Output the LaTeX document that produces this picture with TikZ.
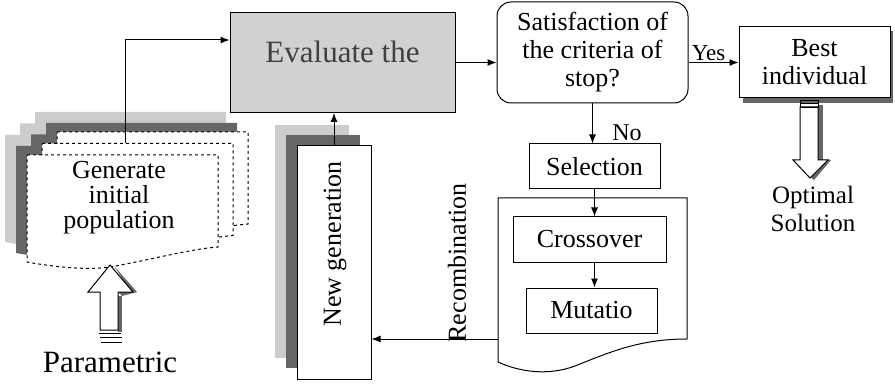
\documentclass[tikz,border=0pt]{standalone}
\usepackage{fontspec}
\setmainfont{Liberation Serif}
\newfontfamily\tnr{Liberation Serif}
\usetikzlibrary{arrows.meta}
\newcommand{\genpage}[3]{\path[#3] (#1,#2) -- (#1+191,#2) -- (#1+191,#2+92)
  .. controls (#1+163,#2+94) and (#1+123,#2+105) .. (#1+83,#2+112)
  .. controls (#1+63,#2+115) and (#1+33,#2+113) .. (#1,#2+107) -- cycle;}
\begin{document}
\begin{tikzpicture}[x=1pt,y=-1pt,
  arr/.style={-{Latex[length=9pt,width=7pt]},line width=1pt},
  box/.style={draw,line width=1pt,fill=white,inner sep=0pt},
  lbl/.style={font=\tnr\fontsize{26}{28}\selectfont,align=center,inner sep=0pt},
  lightsh/.style={fill=black!20},
  darksh/.style={fill=black!60},
  page/.style={draw,dashed,line width=1pt,fill=white},
  hollow/.style={draw,line width=1pt,fill=white}
]
\useasboundingbox (0,0) rectangle (895,385);

% ---- Generate initial population stack ----
\genpage{35}{112}{lightsh}
\genpage{20}{123.5}{lightsh}
\genpage{5}{135}{lightsh}
\genpage{46}{123}{darksh}
\genpage{31}{134.5}{darksh}
\genpage{16}{146}{darksh}
\genpage{57}{132}{page}
\genpage{42}{143.5}{page}
\genpage{27}{155}{page}
\node[font=\tnr\fontsize{26}{25}\selectfont,align=center,inner sep=0pt] (gen) at (119,198) {Generate\\initial\\population};

% ---- Evaluate ----
\node[box,fill=black!18,minimum width=225pt,minimum height=100pt,
      font=\tnr\fontsize{31}{33}\selectfont,text=black!75,text depth=22pt] (eval) at (342.5,62.5) {Evaluate the};
\coordinate (genTop) at (125,143.5);
\coordinate (evalIn) at ([yshift=22.5pt]eval.west);
\draw[arr] (genTop) |- (evalIn);

% ---- Decision ----
\node[box,rounded corners=14pt,minimum width=191pt,minimum height=101pt,lbl] (dec) at (592.5,52.5)
  {Satisfaction of\\the criteria of\\stop?};
\draw[arr] (eval.east) -- (eval.east -| dec.west);

% ---- Best individual ----
\fill[black!60] (743,31) rectangle (893,103);
\node[box,minimum width=151pt,minimum height=71pt,lbl] (best) at (814.5,62.5) {Best\\individual};
\draw[arr] (dec.east |- best.west) -- node[above,pos=0.4,inner sep=1pt,font=\tnr\fontsize{23}{25}\selectfont] (yes) {Yes} (best.west);

% hollow down arrow
\fill[black!60] (818,105) rectangle (823,160);
\fill[black!60] (821,160) -- (831,160) -- (814,180) -- (810,177) -- cycle;
\path[hollow] (800,107) -- (818,107) -- (818,160) -- (828,160) -- (810,178) -- (793,160) -- (800,160) -- cycle;
\draw[line width=0.7pt] (800,100) rectangle (818,107);
\draw[line width=0.7pt] (800,103.5) -- (818,103.5);
\node[font=\tnr\fontsize{25}{28}\selectfont,align=center,inner sep=0pt] (opt) at (813,209) {Optimal\\Solution};

% ---- Selection / recombination ----
\node[box,minimum width=131pt,minimum height=45pt,lbl] (sel) at (594.5,166.5) {Selection};
\draw[arr] (dec.south) -- (dec.south |- sel.north);
\node[font=\tnr\fontsize{24}{26}\selectfont,inner sep=0pt] (no) at (627,133) {No};

\draw[line width=1pt,fill=white] (498,198) -- (687,198) -- (687,339)
  .. controls (640,339) and (610,352) .. (575,366)
  .. controls (548,376) and (520,372) .. (498,362) -- cycle;
\coordinate (recL) at (498,339);

\node[box,minimum width=153pt,minimum height=45pt,lbl] (cross) at (589.5,239.5) {Crossover};
\node[box,minimum width=131pt,minimum height=45pt,lbl] (mut) at (591.5,310.5) {Mutatio};
\draw[arr] (sel.south) -- (sel.south |- cross.north);
\draw[arr] (cross.south -| sel.south) -- (sel.south |- mut.north);

% ---- New generation ----
\fill[black!20] (275,125) rectangle (349,358);
\fill[black!60] (286,135) rectangle (360,368);
\node[box,minimum width=74pt,minimum height=233pt] (ng) at (334,262.5) {};
\node[lbl,rotate=90] (ngtxt) at (335,244) {New generation};
\draw[arr] (ng.north) -- (ng.north |- eval.south);

\draw[arr] (recL) -- (recL -| ng.east);
\node[lbl,rotate=90] (rec) at (457,263) {Recombination};

% ---- Parametric hollow up arrow ----
\fill[black!60] (118,296) rectangle (122,332);
\fill[black!60] (114,266) -- (137,292) -- (122,296) -- (118,292) -- (131,292) -- cycle;
\path[hollow] (110,265) -- (133,292) -- (118,292) -- (118,330) -- (100,330) -- (100,292) -- (88,292) -- cycle;
\draw[line width=0.7pt] (99,333) -- (121,333);
\draw[line width=0.7pt] (100,337.5) -- (122,337.5);
\draw[line width=0.7pt] (101,342) -- (122,342);
\node[font=\tnr\fontsize{31}{33}\selectfont,inner sep=0pt] (param) at (110,362) {Parametric};
\end{tikzpicture}
\end{document}
